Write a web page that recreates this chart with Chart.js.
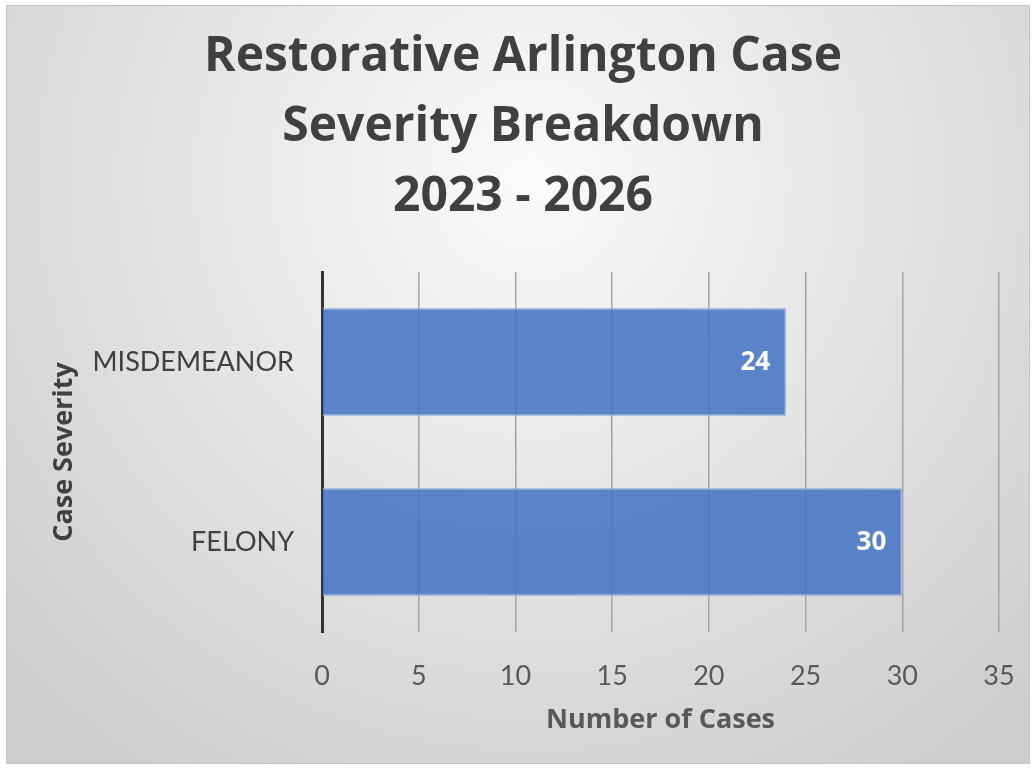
<!DOCTYPE html>
<html>
<head>
<meta charset="utf-8">
<script src="https://cdn.jsdelivr.net/npm/chart.js@4"></script>
<style>
html,body{margin:0;padding:0;background:#fff;}
#wrap{position:absolute;left:0;top:0;width:1036px;height:769px;}
</style>
</head>
<body>
<div id="wrap"><canvas id="c" width="1036" height="769"></canvas></div>
<script>
const titleLines = ["Restorative Arlington Case", "Severity Breakdown", "2023 - 2026"];
const categories = ["MISDEMEANOR", "FELONY"];
const caseCounts = [24, 30];
const xTicks = [0, 5, 10, 15, 20, 25, 30, 35];
const xAxisTitle = "Number of Cases";
const yAxisTitle = "Case Severity";

const REG = "Lato, 'Open Sans', sans-serif";
const BOLD = "'Open Sans', Lato, sans-serif";

const bgPlugin = {
  id: 'bg',
  beforeDraw(chart) {
    const ctx = chart.ctx;
    ctx.save();
    ctx.fillStyle = '#ffffff';
    ctx.fillRect(0, 0, chart.width, chart.height);
    const g = ctx.createRadialGradient(530, 180, 0, 530, 180, 720);
    g.addColorStop(0, '#fbfbfb');
    g.addColorStop(1, '#cdcdcd');
    ctx.fillStyle = g;
    ctx.fillRect(6, 5, 1024, 759);
    ctx.strokeStyle = '#c4c4c4';
    ctx.lineWidth = 1;
    ctx.strokeRect(6.5, 5.5, 1023, 758);
    ctx.restore();
  }
};

const titlePlugin = {
  id: 'multiTitle',
  afterDraw(chart) {
    const ctx = chart.ctx;
    ctx.save();
    ctx.fillStyle = '#404040';
    ctx.font = "bold 48px " + BOLD;
    ctx.textAlign = 'center';
    ctx.textBaseline = 'middle';
    titleLines.forEach((t, i) => ctx.fillText(t, 523, 57 + i * 70));
    ctx.restore();
  }
};

const labelPlugin = {
  id: 'barLabels',
  afterDatasetsDraw(chart) {
    const ctx = chart.ctx;
    const meta = chart.getDatasetMeta(0);
    ctx.save();
    ctx.fillStyle = '#ffffff';
    ctx.font = "bold 26px " + BOLD;
    ctx.textAlign = 'right';
    ctx.textBaseline = 'middle';
    meta.data.forEach((el, i) => {
      ctx.fillText(String(caseCounts[i]), el.x - 16, el.y + 1);
    });
    ctx.restore();
  }
};

new Chart(document.getElementById('c'), {
  type: 'bar',
  data: {
    labels: categories,
    datasets: [{
      data: caseCounts,
      backgroundColor: 'rgba(68,114,196,0.86)',
      borderColor: 'rgba(160,185,230,0.9)',
      borderWidth: 1.5,
      categoryPercentage: 0.6,
      barPercentage: 1.0
    }]
  },
  options: {
    indexAxis: 'y',
    responsive: false,
    animation: false,
    devicePixelRatio: 1,
    layout: { padding: { left: 48, right: 37, top: 272, bottom: 32 } },
    plugins: {
      legend: { display: false },
      tooltip: { enabled: false },
      title: { display: false }
    },
    scales: {
      x: {
        min: 0, max: 35,
        afterBuildTicks(scale) { scale.ticks = xTicks.map(v => ({ value: v })); },
        grid: {
          color: (c) => c.tick && c.tick.value === 0 ? 'rgba(0,0,0,0)' : '#a3a3a3',
          lineWidth: 1.5,
          drawTicks: false
        },
        border: { display: false },
        ticks: {
          color: '#595959',
          font: { family: REG, size: 27 },
          padding: 28
        },
        title: {
          display: true,
          text: xAxisTitle,
          color: '#595959',
          font: { family: BOLD, size: 27, weight: 'bold' },
          padding: { top: 0, bottom: 0 }
        },
        afterFit(scale) { scale.height = 105; scale.paddingRight = 0; scale.paddingLeft = 0; }
      },
      y: {
        grid: { display: false, drawTicks: false },
        border: { display: true, color: '#333333', width: 3 },
        ticks: {
          color: '#404040',
          font: { family: REG, size: 27 },
          padding: 28
        },
        title: {
          display: true,
          text: yAxisTitle,
          color: '#404040',
          font: { family: BOLD, size: 27, weight: 'bold' },
          padding: { top: 0, bottom: 0 }
        },
        afterFit(scale) { scale.width = 274; }
      }
    }
  },
  plugins: [bgPlugin, labelPlugin, titlePlugin]
});
</script>
</body>
</html>
